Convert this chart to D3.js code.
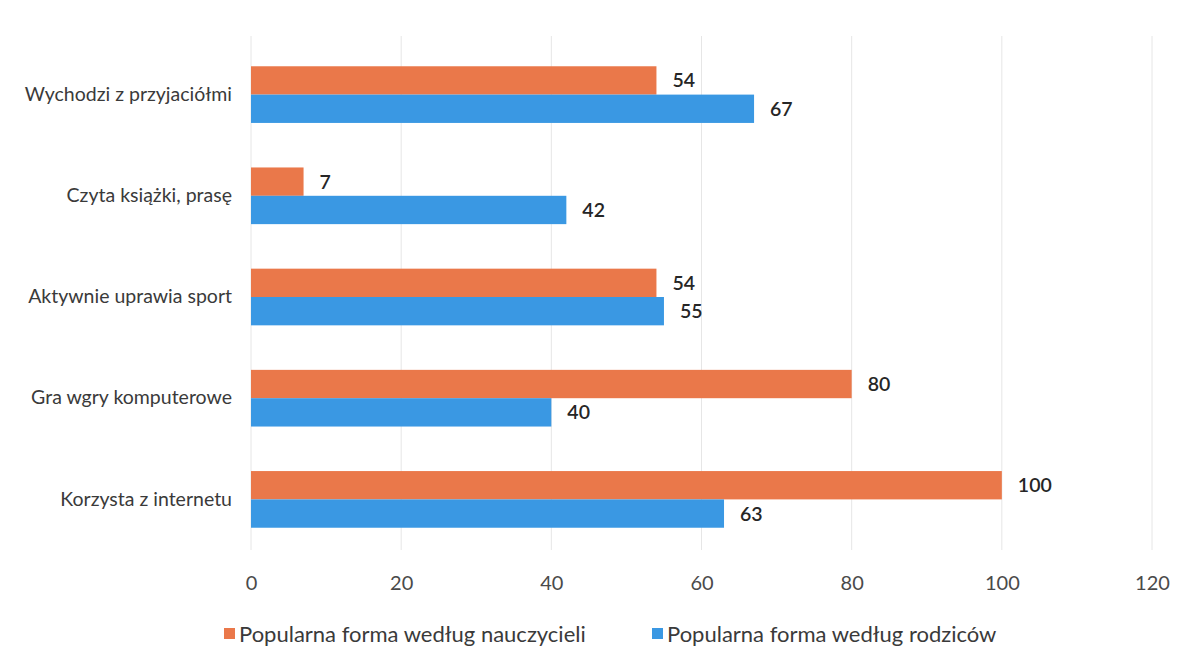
<!DOCTYPE html>
<html><head><meta charset="utf-8">
<script src="https://cdn.jsdelivr.net/npm/d3@7"></script>
<style>body{margin:0;background:#fff;} svg{display:block;}</style>
</head><body><svg id="c" width="1186" height="656"></svg>
<script>
const categories = ["Wychodzi z przyjaciółmi","Czyta książki, prasę","Aktywnie uprawia sport","Gra wgry komputerowe","Korzysta z internetu"];
const teachers = [54, 7, 54, 80, 100];
const parents = [67, 42, 55, 40, 63];
const seriesNames = ["Popularna forma według nauczycieli","Popularna forma według rodziców"];
const tickValues = [0,20,40,60,80,100,120];
const colors = ["#EA784A","#3A98E3"];
const font = "Lato, 'Open Sans', sans-serif";

const svg = d3.select("#c");
const x = d3.scaleLinear().domain([0,120]).range([251,1152]);
const y = d3.scaleBand().domain(categories).range([44,550]).paddingInner(0.44).paddingOuter(0.22);
const sub = d3.scaleBand().domain([0,1]).range([0,y.bandwidth()]);

// gridlines
svg.append("g").selectAll("line").data(tickValues).join("line")
  .attr("x1",d=>x(d)).attr("x2",d=>x(d)).attr("y1",36).attr("y2",550)
  .attr("stroke","#e6e6e6").attr("stroke-width",1);

const data = categories.map((c,i)=>({c, vals:[teachers[i],parents[i]]}));
const g = svg.append("g").selectAll("g").data(data).join("g")
  .attr("transform",d=>`translate(0,${y(d.c)})`);
g.selectAll("rect").data(d=>d.vals.map((v,k)=>({v,k}))).join("rect")
  .attr("x",x(0)).attr("y",d=>sub(d.k)).attr("width",d=>x(d.v)-x(0)).attr("height",sub.bandwidth())
  .attr("fill",d=>colors[d.k]);
g.selectAll("text").data(d=>d.vals.map((v,k)=>({v,k}))).join("text")
  .attr("x",d=>x(d.v)+16).attr("y",d=>sub(d.k)+sub.bandwidth()/2).attr("dy","0.36em")
  .attr("font-family",font).attr("font-size",19.5).attr("font-weight",600).attr("fill","#262626")
  .text(d=>d.v);

// category labels
const yAxis = d3.axisLeft(y).tickSize(0).tickPadding(19);
const ya = svg.append("g").attr("transform",`translate(${x(0)},0)`).call(yAxis);
ya.select(".domain").remove();
ya.selectAll("text").attr("font-family",font).attr("font-size",19.5).attr("fill","#3a3a3a");

// x axis
const xAxis = d3.axisBottom(x).tickValues(tickValues).tickSize(0).tickPadding(19);
const xa = svg.append("g").attr("transform","translate(0,557)").call(xAxis);
xa.select(".domain").remove();
xa.selectAll("text").attr("font-family",font).attr("font-size",20).attr("fill","#4a4a4a");

// legend
const legX = [224, 652];
const lg = svg.append("g").selectAll("g").data(seriesNames).join("g")
  .attr("transform",(d,i)=>`translate(${legX[i]},634)`);
lg.append("rect").attr("x",0).attr("y",-6).attr("width",11).attr("height",11).attr("fill",(d,i)=>colors[i]);
lg.append("text").attr("x",15).attr("y",0).attr("dy","0.36em")
  .attr("font-family",font).attr("font-size",22).attr("fill","#3a3a3a").text(d=>d);
</script></body></html>
